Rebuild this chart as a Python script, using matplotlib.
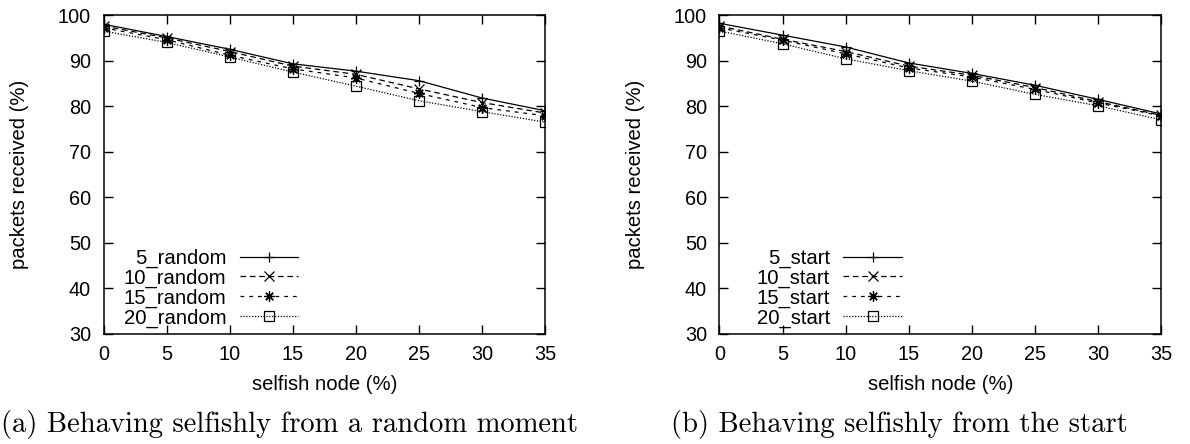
import matplotlib
matplotlib.use("Agg")
import matplotlib.pyplot as plt

x = [0, 5, 10, 15, 20, 25, 30, 35]

random_5 = [98.0, 95.3, 92.5, 89.3, 87.7, 85.6, 81.8, 79.0]
random_10 = [97.6, 95.0, 92.0, 88.8, 87.0, 83.8, 80.8, 78.5]
random_15 = [97.2, 94.6, 91.2, 88.2, 86.2, 82.8, 79.7, 77.9]
random_20 = [96.5, 94.0, 90.8, 87.5, 84.4, 81.2, 78.8, 76.5]

start_5 = [98.2, 95.6, 93.0, 89.5, 87.2, 84.6, 81.5, 78.3]
start_10 = [97.6, 94.7, 92.0, 88.8, 86.8, 84.1, 81.0, 78.0]
start_15 = [97.2, 94.5, 91.5, 88.4, 86.4, 83.7, 80.7, 77.9]
start_20 = [96.5, 93.7, 90.4, 87.8, 85.5, 82.6, 80.1, 77.0]

labels_random = ["5_random", "10_random", "15_random", "20_random"]
labels_start = ["5_start", "10_start", "15_start", "20_start"]
xticks = [0, 5, 10, 15, 20, 25, 30, 35]
yticks = [30, 40, 50, 60, 70, 80, 90, 100]
xlabel = "selfish node (%)"
ylabel = "packets received (%)"
captions = ["(a) Behaving selfishly from a random moment",
            "(b) Behaving selfishly from the start"]

styles = [
    dict(linestyle="-", marker="+", markersize=7),
    dict(linestyle=(0, (4.5, 3)), marker="x", markersize=6.5),
    dict(linestyle=(0, (3, 4)), marker=(8, 2, 0), markersize=7.5),
    dict(linestyle=(0, (1, 1.3)), marker="s", markersize=7, fillstyle="none"),
]

plt.rcParams["font.family"] = ["Liberation Sans", "DejaVu Sans"]

fig = plt.figure(figsize=(11.9, 4.44), dpi=100)
ax1 = fig.add_axes([0.087, 0.248, 0.371, 0.718])
ax2 = fig.add_axes([0.6046, 0.248, 0.371, 0.718])

for ax, series, labels, legx in [(ax1, [random_5, random_10, random_15, random_20], labels_random, 0.441),
                                 (ax2, [start_5, start_10, start_15, start_20], labels_start, 0.413)]:
    for s, lab, st in zip(series, labels, styles):
        ax.plot(x, s, color="black", linewidth=0.9, markeredgewidth=0.9,
                label=lab, **st)
    ax.set_xlim(0, 35)
    ax.set_ylim(30, 100)
    ax.set_xticks(xticks)
    ax.set_yticks(yticks)
    ax.tick_params(direction="in", top=True, right=True, length=6.5, width=1,
                   labelsize=14.3)
    ax.tick_params(axis="x", pad=8)
    ax.tick_params(axis="y", pad=9)
    for sp in ax.spines.values():
        sp.set_linewidth(1.1)
    ax.set_xlabel(xlabel, fontsize=14.6)
    ax.xaxis.set_label_coords(0.5, -0.13)
    ax.set_ylabel(ylabel, fontsize=14.6)
    ax.yaxis.set_label_coords(-0.169, 0.5)
    leg = ax.legend(loc="lower right", bbox_to_anchor=(legx, 0.02), markerfirst=False,
                    frameon=False, fontsize=14.6, handlelength=2.88, handletextpad=0.66,
                    labelspacing=0.03, numpoints=1, borderaxespad=0.0, borderpad=0.0)
    leg._legend_box.align = "right"

fig.text(0.243, 0.045, captions[0], ha="center", va="center",
         fontsize=20.6, family=["cmr10", "DejaVu Serif"])
fig.text(0.756, 0.045, captions[1], ha="center", va="center",
         fontsize=20.6, family=["cmr10", "DejaVu Serif"])

fig.savefig("out.png", dpi=100)
